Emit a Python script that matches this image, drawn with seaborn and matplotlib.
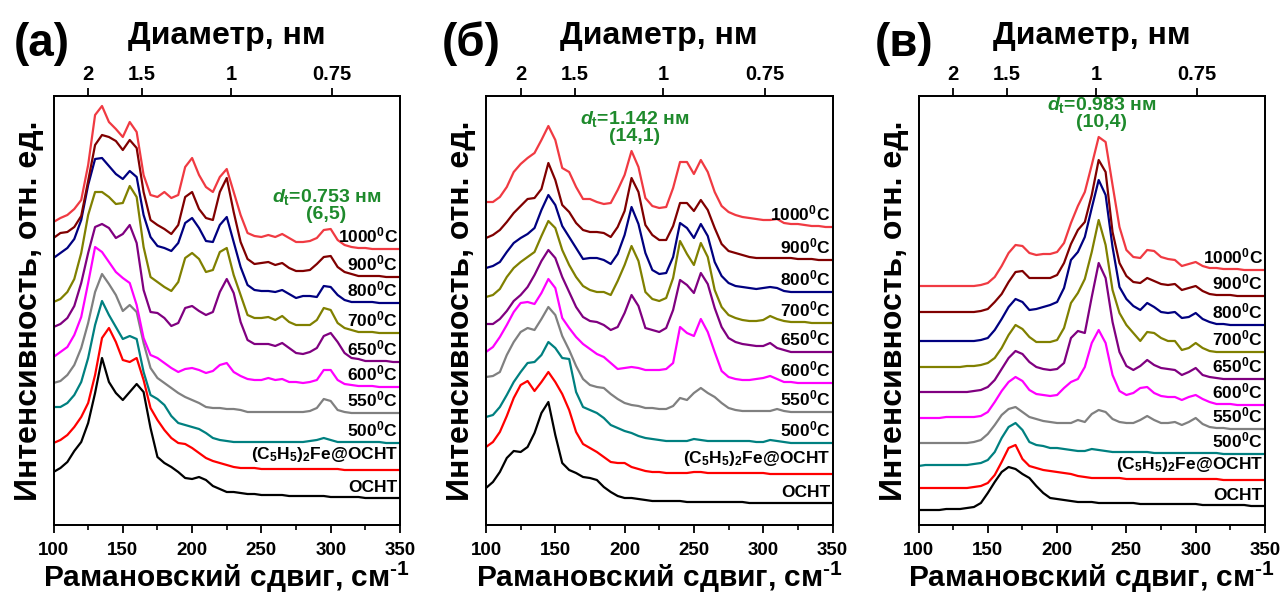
import numpy as np
import pandas as pd
import matplotlib
matplotlib.use("Agg")
import matplotlib.pyplot as plt
from matplotlib.ticker import MultipleLocator
import seaborn as sns

# Raman shift grid (cm^-1) shared by all spectra
shift = [100, 105, 110, 115, 120, 125, 130, 135, 140, 145, 150, 155, 160, 165, 170,
         175, 180, 185, 190, 195, 200, 205, 210, 215, 220, 225, 230, 235, 240, 245,
         250, 255, 260, 265, 270, 275, 280, 285, 290, 295, 300, 305, 310, 315, 320,
         325, 330, 335, 340, 345, 350]

# Panel (а): stacked RBM spectra, arbitrary units
a_ocht = [53, 57, 63, 74, 83, 102, 132, 167, 143, 132, 125, 133, 141, 133, 97, 68, 62, 58, 53, 47, 46, 48, 45, 39, 36, 33, 33, 32, 31, 31, 30, 30, 30, 30, 29, 29, 29, 29, 29, 29, 28, 28, 28, 28, 28, 27, 27, 27, 27, 27, 27]
a_fc = [82, 85, 90, 98, 108, 122, 150, 187, 197, 183, 165, 163, 167, 145, 117, 105, 95, 87, 82, 81, 77, 72, 67, 64, 62, 60, 58, 57, 57, 57, 56, 56, 56, 56, 56, 56, 56, 56, 56, 56, 56, 56, 55, 55, 55, 55, 55, 55, 55, 55, 55]
a_500 = [118, 118, 122, 130, 143, 167, 200, 224, 210, 198, 186, 189, 186, 153, 130, 126, 120, 109, 102, 100, 98, 96, 92, 87, 85, 84, 83, 83, 83, 83, 83, 83, 83, 83, 83, 83, 83, 84, 85, 87, 85, 83, 83, 83, 83, 83, 83, 83, 82, 82, 82]
a_550 = [142, 144, 150, 160, 177, 202, 233, 251, 241, 230, 214, 220, 213, 182, 157, 147, 142, 137, 132, 128, 125, 122, 118, 117, 117, 116, 116, 115, 113, 113, 113, 113, 113, 113, 113, 113, 113, 114, 117, 126, 124, 115, 113, 112, 112, 112, 112, 112, 112, 112, 112]
a_600 = [168, 173, 178, 190, 208, 242, 278, 273, 263, 253, 247, 242, 220, 187, 170, 167, 162, 157, 153, 156, 157, 155, 152, 154, 160, 162, 153, 149, 146, 145, 145, 147, 145, 146, 143, 143, 142, 143, 145, 155, 155, 145, 141, 140, 139, 139, 139, 138, 138, 138, 138]
a_650 = [198, 201, 207, 219, 242, 272, 298, 301, 297, 287, 291, 300, 282, 235, 213, 212, 207, 199, 202, 217, 219, 214, 210, 213, 233, 246, 232, 203, 185, 181, 181, 181, 179, 182, 177, 172, 171, 173, 177, 189, 192, 183, 172, 167, 166, 164, 164, 164, 164, 163, 163]
a_700 = [223, 226, 233, 246, 272, 310, 333, 333, 328, 321, 322, 339, 328, 278, 248, 243, 238, 234, 243, 267, 272, 266, 253, 255, 273, 277, 250, 230, 210, 207, 207, 208, 205, 209, 203, 200, 200, 200, 205, 217, 215, 202, 197, 195, 193, 193, 193, 192, 192, 192, 192]
a_800 = [267, 272, 277, 286, 305, 340, 366, 367, 359, 351, 346, 354, 348, 310, 288, 279, 277, 274, 282, 302, 307, 297, 284, 283, 300, 308, 283, 258, 240, 235, 234, 234, 233, 235, 231, 227, 229, 229, 228, 239, 238, 230, 225, 223, 223, 223, 223, 222, 222, 222, 222]
a_900 = [287, 292, 293, 298, 309, 344, 380, 390, 388, 384, 375, 385, 377, 333, 305, 300, 296, 291, 300, 328, 333, 316, 307, 305, 333, 347, 313, 283, 266, 261, 262, 263, 260, 262, 257, 254, 254, 255, 261, 268, 269, 258, 253, 251, 249, 249, 249, 249, 248, 248, 248]
a_1000 = [303, 307, 310, 316, 325, 360, 410, 419, 403, 396, 388, 403, 393, 350, 330, 328, 333, 327, 330, 358, 367, 350, 338, 333, 348, 356, 333, 310, 292, 289, 288, 290, 288, 291, 287, 283, 283, 284, 287, 295, 296, 285, 280, 278, 277, 277, 276, 276, 276, 276, 276]

# Panel (б)
b_ocht = [37, 43, 53, 67, 74, 73, 78, 92, 112, 123, 90, 62, 55, 52, 48, 47, 45, 38, 33, 29, 27, 27, 26, 25, 24, 24, 24, 24, 24, 23, 23, 23, 23, 23, 23, 23, 23, 23, 22, 22, 22, 22, 22, 22, 22, 22, 22, 22, 22, 22, 22]
b_fc = [78, 83, 93, 109, 127, 140, 144, 134, 143, 153, 143, 131, 115, 93, 81, 77, 73, 68, 63, 62, 62, 58, 56, 54, 53, 53, 52, 52, 52, 52, 53, 53, 52, 52, 52, 52, 52, 52, 52, 52, 52, 51, 51, 51, 51, 51, 51, 51, 51, 51, 51]
b_500 = [108, 110, 118, 130, 143, 153, 162, 163, 170, 183, 177, 167, 166, 133, 118, 115, 112, 107, 100, 97, 94, 92, 89, 87, 86, 85, 84, 84, 84, 84, 86, 85, 84, 84, 84, 84, 84, 84, 84, 83, 83, 85, 84, 83, 82, 82, 82, 82, 82, 82, 82]
b_550 = [148, 149, 153, 170, 183, 193, 197, 195, 206, 218, 210, 189, 175, 159, 146, 140, 138, 137, 131, 126, 122, 120, 119, 117, 117, 116, 116, 119, 127, 125, 132, 137, 132, 128, 122, 117, 115, 114, 114, 114, 114, 114, 116, 114, 113, 113, 113, 113, 113, 113, 113]
b_600 = [173, 178, 188, 200, 213, 222, 223, 221, 232, 246, 237, 207, 197, 188, 181, 176, 171, 168, 162, 156, 157, 158, 157, 155, 155, 155, 156, 162, 198, 192, 189, 206, 193, 173, 154, 148, 146, 145, 145, 146, 147, 149, 146, 143, 143, 142, 142, 142, 142, 142, 142]
b_650 = [201, 201, 206, 214, 224, 230, 238, 250, 264, 275, 267, 248, 233, 218, 208, 204, 203, 200, 195, 198, 212, 230, 219, 197, 195, 193, 197, 215, 245, 240, 232, 252, 241, 217, 198, 187, 183, 181, 180, 179, 179, 182, 177, 175, 173, 173, 173, 173, 173, 173, 173]
b_700 = [228, 230, 236, 248, 257, 263, 268, 273, 289, 304, 297, 275, 260, 248, 239, 235, 233, 233, 230, 244, 260, 279, 264, 233, 226, 224, 227, 247, 284, 271, 260, 282, 268, 235, 218, 210, 207, 205, 204, 204, 205, 209, 206, 204, 203, 203, 203, 202, 202, 202, 202]
b_800 = [257, 259, 263, 273, 282, 287, 291, 297, 315, 330, 320, 299, 288, 277, 266, 267, 267, 265, 261, 271, 290, 318, 301, 272, 255, 251, 252, 268, 302, 297, 287, 301, 289, 263, 249, 242, 239, 238, 237, 236, 237, 238, 237, 234, 233, 233, 233, 233, 233, 233, 233]
b_900 = [287, 290, 295, 303, 312, 319, 326, 327, 336, 362, 345, 320, 313, 302, 295, 293, 293, 292, 288, 298, 314, 347, 333, 300, 290, 285, 285, 299, 322, 322, 314, 325, 315, 297, 281, 274, 272, 270, 268, 267, 267, 267, 267, 267, 267, 266, 266, 266, 265, 265, 265]
b_1000 = [323, 323, 328, 338, 353, 361, 367, 372, 385, 399, 385, 357, 353, 338, 326, 326, 323, 321, 322, 335, 350, 374, 358, 327, 319, 317, 318, 337, 363, 363, 351, 365, 353, 333, 319, 313, 310, 308, 307, 306, 305, 305, 306, 302, 301, 301, 300, 299, 299, 298, 298]

# Panel (в)
c_ocht = [15, 15, 15, 15, 16, 16, 16, 17, 18, 22, 32, 43, 53, 58, 56, 51, 47, 39, 32, 27, 26, 25, 24, 23, 23, 23, 22, 22, 22, 22, 22, 22, 21, 21, 21, 21, 21, 21, 21, 21, 21, 20, 20, 20, 20, 20, 20, 20, 19, 19, 19]
c_fc = [37, 37, 37, 37, 37, 37, 37, 37, 38, 39, 42, 50, 63, 77, 80, 66, 59, 57, 55, 54, 53, 52, 51, 49, 48, 47, 47, 47, 47, 47, 46, 46, 46, 46, 46, 46, 46, 46, 46, 46, 46, 46, 46, 46, 45, 45, 45, 45, 45, 45, 45]
c_500 = [59, 60, 60, 60, 60, 60, 60, 60, 61, 62, 65, 73, 87, 98, 102, 95, 83, 80, 79, 77, 77, 76, 75, 74, 74, 76, 75, 74, 73, 73, 73, 73, 73, 73, 72, 72, 72, 72, 72, 72, 72, 72, 72, 72, 71, 71, 71, 71, 71, 71, 71]
c_550 = [82, 82, 82, 82, 82, 82, 82, 82, 83, 85, 91, 100, 110, 116, 118, 113, 108, 106, 104, 103, 102, 102, 102, 105, 103, 111, 115, 113, 106, 103, 102, 102, 105, 109, 105, 102, 102, 103, 100, 103, 107, 101, 98, 97, 97, 96, 96, 96, 96, 96, 96]
c_600 = [107, 107, 107, 107, 108, 108, 108, 108, 108, 109, 113, 123, 134, 143, 148, 144, 135, 131, 130, 129, 130, 137, 143, 146, 158, 182, 195, 182, 150, 134, 130, 132, 137, 138, 132, 129, 128, 128, 125, 128, 130, 126, 123, 121, 121, 121, 120, 120, 120, 120, 120]
c_650 = [133, 133, 133, 133, 133, 133, 133, 133, 134, 135, 138, 145, 156, 167, 174, 171, 163, 158, 156, 155, 156, 162, 187, 194, 192, 228, 262, 247, 203, 173, 159, 155, 159, 165, 160, 157, 156, 155, 150, 153, 157, 150, 148, 147, 146, 146, 146, 146, 146, 146, 146]
c_700 = [158, 158, 158, 158, 158, 158, 158, 159, 159, 160, 162, 167, 177, 190, 200, 196, 188, 183, 183, 183, 185, 197, 222, 232, 246, 273, 305, 280, 235, 212, 200, 192, 184, 193, 192, 187, 184, 184, 175, 177, 182, 177, 174, 173, 173, 173, 173, 173, 173, 173, 173]
c_800 = [184, 184, 184, 184, 184, 184, 184, 184, 184, 185, 187, 195, 206, 218, 226, 223, 215, 216, 218, 220, 223, 237, 265, 273, 288, 317, 345, 330, 278, 238, 226, 219, 215, 222, 218, 213, 212, 213, 207, 208, 212, 206, 203, 201, 201, 200, 200, 200, 200, 200, 200]
c_900 = [213, 213, 213, 213, 213, 213, 213, 213, 213, 214, 216, 223, 231, 243, 253, 254, 247, 247, 247, 247, 250, 262, 281, 295, 303, 330, 365, 353, 293, 262, 249, 243, 242, 247, 244, 241, 240, 241, 235, 237, 239, 234, 231, 230, 230, 230, 229, 229, 229, 229, 229]
c_1000 = [239, 239, 239, 239, 239, 239, 239, 239, 239, 240, 242, 248, 259, 272, 280, 279, 272, 270, 271, 271, 273, 282, 302, 319, 333, 360, 388, 383, 340, 298, 275, 268, 267, 275, 274, 268, 266, 265, 259, 261, 263, 259, 257, 257, 256, 256, 256, 255, 255, 255, 255]

# Sample names, bottom to top
sample_names = ["ОСНТ", "(C$_5$H$_5$)$_2$Fe@ОСНТ", "500$^0$C", "550$^0$C", "600$^0$C",
                "650$^0$C", "700$^0$C", "800$^0$C", "900$^0$C", "1000$^0$C"]
sample_colors = ["#000000", "#ff0000", "#008080", "#808080", "#ff00ff",
                 "#800080", "#808000", "#000080", "#800000", "#f03a42"]

# Diameter scale on the top axis: tick label -> Raman shift position
diam_labels = ["2", "1.5", "1", "0.75"]
diam_shift = [125, 164, 228, 301]

# Highlighted nanotube per panel
panel_letters = ["(а)", "(б)", "(в)"]
peak_shift = [297, 207, 232]
peak_diam = ["0.753", "1.142", "0.983"]
peak_chirality = ["(6,5)", "(14,1)", "(10,4)"]

panels = [
    [a_ocht, a_fc, a_500, a_550, a_600, a_650, a_700, a_800, a_900, a_1000],
    [b_ocht, b_fc, b_500, b_550, b_600, b_650, b_700, b_800, b_900, b_1000],
    [c_ocht, c_fc, c_500, c_550, c_600, c_650, c_700, c_800, c_900, c_1000],
]

sns.set_theme(style="ticks")
plt.rcParams["font.family"] = ["Liberation Sans", "DejaVu Sans"]
plt.rcParams["font.weight"] = "bold"
plt.rcParams["axes.labelweight"] = "bold"
plt.rcParams["mathtext.fontset"] = "custom"
plt.rcParams["mathtext.rm"] = "Liberation Sans:bold"
plt.rcParams["mathtext.bf"] = "Liberation Sans:bold"
plt.rcParams["mathtext.it"] = "Liberation Sans:italic:bold"
plt.rcParams["mathtext.default"] = "rm"
plt.rcParams["axes.edgecolor"] = "black"
plt.rcParams["axes.linewidth"] = 1.3
plt.rcParams["xtick.color"] = "black"
plt.rcParams["text.color"] = "black"
plt.rcParams["axes.labelcolor"] = "black"

W, H = 1286, 597
fig = plt.figure(figsize=(W / 100, H / 100), dpi=100)
fig.patch.set_facecolor("white")

green = "#1e8a2c"
palette = dict(zip(sample_names, sample_colors))
axes_left = [53.5, 486, 918.5]
letter_x = [42, 471, 904]

for i, series in enumerate(panels):
    ax = fig.add_axes([axes_left[i] / W, 72 / H, 346.5 / W, 429 / H])
    frame = pd.concat(
        [pd.DataFrame({"shift": shift, "intensity": vals, "sample": name})
         for name, vals in zip(sample_names, series)],
        ignore_index=True,
    )
    sns.lineplot(data=frame, x="shift", y="intensity", hue="sample",
                 hue_order=sample_names, palette=palette, estimator=None,
                 sort=False, legend=False, linewidth=1.6, ax=ax)

    ax.set_xlim(100, 350)
    ax.set_ylim(0, 429)
    ax.set_yticks([])
    ax.xaxis.set_major_locator(MultipleLocator(50))
    ax.xaxis.set_minor_locator(MultipleLocator(25))
    ax.tick_params(axis="x", which="major", direction="out", length=6, width=1.3,
                   labelsize=13.5, pad=6, bottom=True)
    ax.tick_params(axis="x", which="minor", direction="out", length=3.5, width=1.2,
                   bottom=True)
    ax.set_xlabel(r"Рамановский сдвиг, см$^{\text{-1}}$", fontsize=21.5, labelpad=1)
    ax.set_ylabel("Интенсивность, отн. ед.", fontsize=23, labelpad=7)

    top = ax.twiny()
    top.set_xlim(100, 350)
    top.set_xticks(diam_shift)
    top.set_xticklabels(diam_labels)
    top.tick_params(axis="x", direction="out", length=6, width=1.3,
                    labelsize=14.5, pad=3)
    top.set_xlabel("Диаметр, нм", fontsize=23, labelpad=15)
    for sp in top.spines.values():
        sp.set_linewidth(1.3)

    # sample labels just above the right end of each curve
    for name, vals in zip(sample_names, series):
        lift = 8.0 if "_" in name else 4.5
        ax.annotate(name, xy=(1, vals[-1]), xycoords=("axes fraction", "data"),
                    xytext=(-1.5, lift), textcoords="offset points",
                    ha="right", va="baseline", fontsize=12.5)

    # highlighted peak: tube diameter and chirality above the top spectrum
    peak = peak_shift[i]
    top_vals = series[-1]
    near = [v for s, v in zip(shift, top_vals) if abs(s - peak) <= 5]
    ytop = max(near)
    ax.annotate(peak_chirality[i], xy=(peak, ytop), xytext=(0, 7),
                textcoords="offset points", ha="center", va="baseline",
                color=green, fontsize=14)
    ax.annotate(r"$\mathit{d}_{\mathrm{t}}$=" + peak_diam[i] + " нм",
                xy=(peak, ytop), xytext=(0, 19.5), textcoords="offset points",
                ha="center", va="baseline", color=green, fontsize=14)

    fig.text(letter_x[i] / W, 1 - 44 / H, panel_letters[i], ha="center",
             va="center", fontsize=33, fontweight="bold")

fig.savefig("out.png", dpi=100, facecolor="white")
